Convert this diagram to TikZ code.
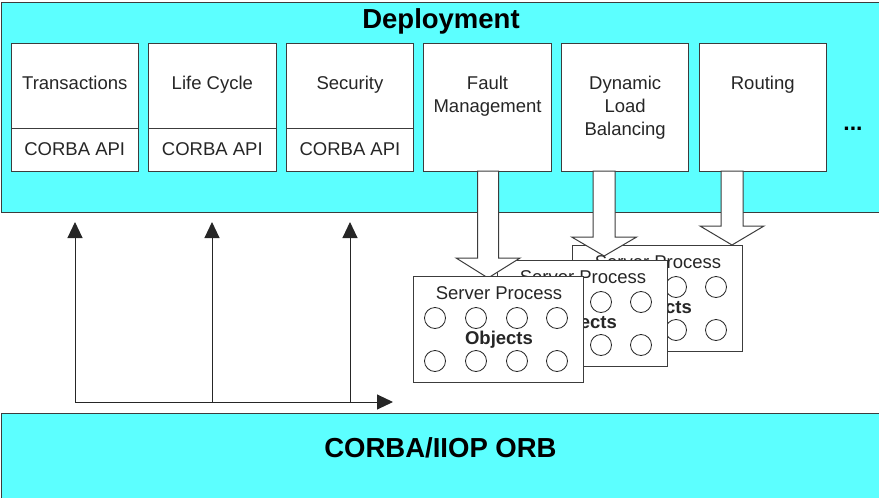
\documentclass[tikz,border=0pt]{standalone}
\usepackage{fontspec}
\setmainfont{Liberation Sans}
\usepackage{tikz}
\usetikzlibrary{arrows.meta,positioning,shapes}
\definecolor{layercyan}{RGB}{92,255,255}
\definecolor{edgegray}{RGB}{60,60,60}
\newcommand{\txtsize}{\fontsize{18.5}{23}\selectfont}
\newcommand{\headsize}{\fontsize{27.5}{32}\selectfont}
% one stacked server process: prefix, x, y
\newcommand{\serverproc}[3]{%
  \begin{scope}[shift={(#2,#3)}]
    \node[proc] (#1) at (0,0) {};
    \node[lbl, anchor=base] (#1-name) at (86,23) {Server Process};
    \foreach \cx/\k in {22/a,63/b,104/c,144/d} {
      \node[obj] (#1-\k1) at (\cx,42) {};
      \node[obj] (#1-\k2) at (\cx,85) {};
    }
    \node[lbl, anchor=base, font=\txtsize\bfseries] (#1-objs) at (86,68.5) {Objects};
  \end{scope}}

\begin{document}
\begin{tikzpicture}[x=1pt, y=-1pt]
    \tikzset{
        layer/.style = {draw=edgegray, line width=1pt, fill=layercyan, outer sep=0pt, inner sep=0pt, anchor=north west},
        svc/.style = {draw=edgegray, line width=1pt, fill=white, minimum width=127.5pt, minimum height=128pt, outer sep=0pt, inner sep=0pt, anchor=north west},
        proc/.style = {draw=edgegray, line width=1pt, fill=white, minimum width=170pt, minimum height=106pt, outer sep=0pt, inner sep=0pt, anchor=north west},
        obj/.style = {circle, draw=black!85, line width=0.8pt, minimum size=21pt, inner sep=0pt},
        lbl/.style = {inner sep=0pt, align=center, font=\txtsize, text=black!85},
        headtxt/.style = {inner sep=0pt, font=\headsize\bfseries, anchor=base},
        divider/.style = {draw=edgegray, line width=1pt},
        busarrow/.style = {draw=black!85, line width=1pt, -{Triangle[length=16pt, width=15pt]}},
        blockarr/.style = {draw=edgegray, line width=1pt, fill=white, line join=miter}
    }
    \clip (0,0) rectangle (879,498);

    % the two layers
    \node[layer, minimum width=890pt, minimum height=210pt] (dep) at (1,2) {};
    \node[headtxt] (dep-name) at (441,28) {Deployment};
    \node[layer, minimum width=890pt, minimum height=100pt] (orb) at (1,413) {};
    \node[headtxt] (orb-name) at (440.5,457.5) {CORBA/IIOP ORB};

    % services
    \node[svc] (tr) at (11,43) {};
    \node[lbl, anchor=north] (tr-name) at ([yshift=-32.5pt]tr.north) {Transactions};
    \node[lbl] (tr-api) at ([yshift=21.5pt]tr.south) {CORBA API};
    \draw[divider] ([yshift=-85pt]tr.north west) -- ([yshift=-85pt]tr.north east);

    \node[svc] (lc) at (148.6,43) {};
    \node[lbl, anchor=north] (lc-name) at ([yshift=-32.5pt]lc.north) {Life Cycle};
    \node[lbl] (lc-api) at ([yshift=21.5pt]lc.south) {CORBA API};
    \draw[divider] ([yshift=-85pt]lc.north west) -- ([yshift=-85pt]lc.north east);

    \node[svc] (sec) at (286.2,43) {};
    \node[lbl, anchor=north] (sec-name) at ([yshift=-32.5pt]sec.north) {Security};
    \node[lbl] (sec-api) at ([yshift=21.5pt]sec.south) {CORBA API};
    \draw[divider] ([yshift=-85pt]sec.north west) -- ([yshift=-85pt]sec.north east);

    \node[svc] (fm) at (423.8,43) {};
    \node[lbl, anchor=north] (fm-name) at ([yshift=-32.5pt]fm.north) {Fault\\Management};

    \node[svc] (dlb) at (561.4,43) {};
    \node[lbl, anchor=north] (dlb-name) at ([yshift=-32.5pt]dlb.north) {Dynamic\\Load\\Balancing};

    \node[svc] (rt) at (699,43) {};
    \node[lbl, anchor=north] (rt-name) at ([yshift=-32.5pt]rt.north) {Routing};

    \node[inner sep=0pt, anchor=base, font=\fontsize{23}{26}\selectfont\bfseries] (more) at (853,130) {...};

    % calls through the ORB
    \coordinate (b1) at (75,402);
    \coordinate (b2) at (212,402);
    \coordinate (b3) at (350,402);
    \coordinate (busend) at (393,402);
    \coordinate (t1) at (75,222);
    \coordinate (t2) at (212,222);
    \coordinate (t3) at (350,222);
    \draw[busarrow] (b1) -- (busend);
    \draw[busarrow] (b1) -- (t1);
    \draw[busarrow] (b2) -- (t2);
    \draw[busarrow] (b3) -- (t3);

    % server processes with the services pushed into them
    \serverproc{sp3}{572}{245}
    \draw[blockarr] ([xshift=-32pt]dlb.south) -- ++(0,66) -- ++(-21.5,0) -- ++(32.5,19) -- ++(32.5,-19) -- ++(-21.5,0) -- ++(0,-66) -- cycle;
    \draw[blockarr] ([xshift=-41.75pt]rt.south) -- ++(0,55) -- ++(-21,0) -- ++(32,19) -- ++(32,-19) -- ++(-21,0) -- ++(0,-55) -- cycle;
    \serverproc{sp2}{497}{260}
    \draw[blockarr] ([xshift=-10pt]fm.south) -- ++(0,87) -- ++(-21.5,0) -- ++(32,20) -- ++(32,-20) -- ++(-21.5,0) -- ++(0,-87) -- cycle;
    \serverproc{sp1}{413}{276}
\end{tikzpicture}
\end{document}
